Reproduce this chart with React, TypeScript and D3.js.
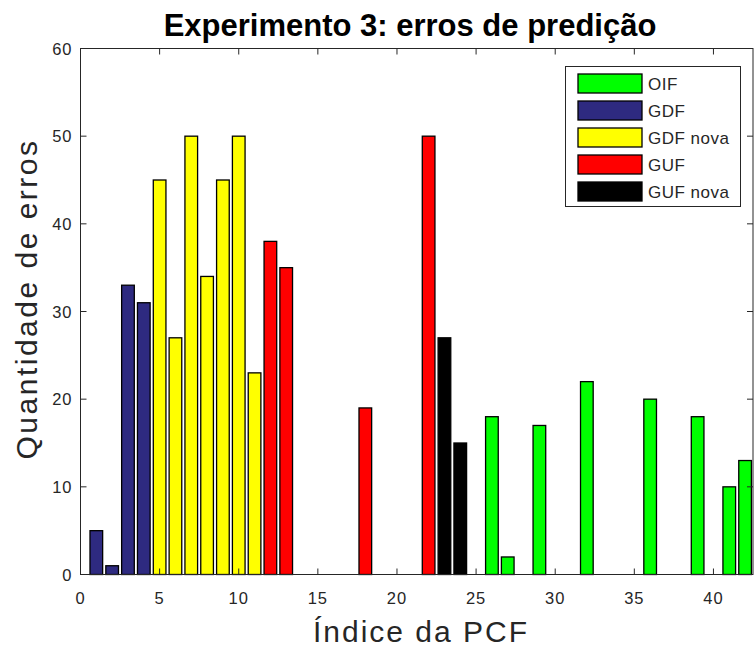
import * as d3 from 'd3';

const indices = [1, 2, 3, 4, 5, 6, 7, 8, 9, 10, 11, 12, 13, 18, 22, 23, 24, 26, 27, 29, 32, 36, 39, 41, 42];
const counts = [5, 1, 33, 31, 45, 27, 50, 34, 45, 50, 23, 38, 35, 19, 50, 27, 15, 18, 2, 17, 22, 20, 18, 10, 13];
const groups = ['GDF', 'GDF', 'GDF', 'GDF', 'GDF nova', 'GDF nova', 'GDF nova', 'GDF nova', 'GDF nova', 'GDF nova', 'GDF nova',
  'GUF', 'GUF', 'GUF', 'GUF', 'GUF nova', 'GUF nova', 'OIF', 'OIF', 'OIF', 'OIF', 'OIF', 'OIF', 'OIF', 'OIF'];
const legendNames = ['OIF', 'GDF', 'GDF nova', 'GUF', 'GUF nova'];
const legendColors = ['#00ff00', '#2e2a80', '#ffff00', '#ff0000', '#000000'];
const xTicks = [0, 5, 10, 15, 20, 25, 30, 35, 40];
const yTicks = [0, 10, 20, 30, 40, 50, 60];

export default function App() {
  const W = 755, H = 653;
  const left = 80.5, right = 753, top = 48.5, bottom = 574.5;
  const x = d3.scaleLinear().domain([0, 42.5]).range([left, right]);
  const y = d3.scaleLinear().domain([0, 60]).range([bottom, top]);
  const color = d3.scaleOrdinal<string, string>().domain(legendNames).range(legendColors);
  const bw = x(0.8) - x(0);
  const font = 'Liberation Sans, Arial, sans-serif';
  const tick = 6;
  const axisColor = '#262626';

  return (
    <svg width={W} height={H} style={{ position: 'absolute', left: 0, top: 0, background: '#fff' }} fontFamily={font}>
      <rect x={0} y={0} width={W} height={H} fill="#fff" />
      {indices.map((xi, i) => (
        <rect key={i} x={x(xi) - bw / 2} y={y(counts[i])} width={bw} height={y(0) - y(counts[i])}
          fill={color(groups[i])} stroke="#000" strokeWidth={1.3} />
      ))}
      <rect x={left} y={top} width={right - left} height={bottom - top} fill="none" stroke={axisColor} strokeWidth={1} />
      {xTicks.map(t => (
        <g key={'x' + t}>
          <line x1={x(t)} x2={x(t)} y1={bottom} y2={bottom - tick} stroke={axisColor} />
          <line x1={x(t)} x2={x(t)} y1={top} y2={top + tick} stroke={axisColor} />
          <text x={x(t)} y={bottom + 29} textAnchor="middle" fontSize={16.5} letterSpacing={1} fill={axisColor}>{t}</text>
        </g>
      ))}
      {yTicks.map(t => (
        <g key={'y' + t}>
          <line x1={left} x2={left + tick} y1={y(t)} y2={y(t)} stroke={axisColor} />
          <line x1={right} x2={right - tick} y1={y(t)} y2={y(t)} stroke={axisColor} />
          <text x={left - 8} y={y(t) + 6} textAnchor="end" fontSize={16.5} letterSpacing={1} fill={axisColor}>{t}</text>
        </g>
      ))}
      <text x={410} y={36} textAnchor="middle" fontSize={31} fontWeight="bold" fill="#000">Experimento 3: erros de predição</text>
      <text x={421} y={642} textAnchor="middle" fontSize={30} letterSpacing={2} fill={axisColor}>Índice da PCF</text>
      <text transform={`translate(37,299) rotate(-90)`} textAnchor="middle" fontSize={30} letterSpacing={2.5} fill={axisColor}>Quantidade de erros</text>
      <g>
        <rect x={565.5} y={66.5} width={175} height={140} fill="#fff" stroke={axisColor} strokeWidth={1} />
        {legendNames.map((n, i) => (
          <g key={n}>
            <rect x={578} y={74 + i * 27} width={64} height={19} fill={legendColors[i]} stroke="#000" strokeWidth={1.3} />
            <text x={648} y={89.5 + i * 27} fontSize={17} letterSpacing={0.5} fill={axisColor}>{n}</text>
          </g>
        ))}
      </g>
    </svg>
  );
}
